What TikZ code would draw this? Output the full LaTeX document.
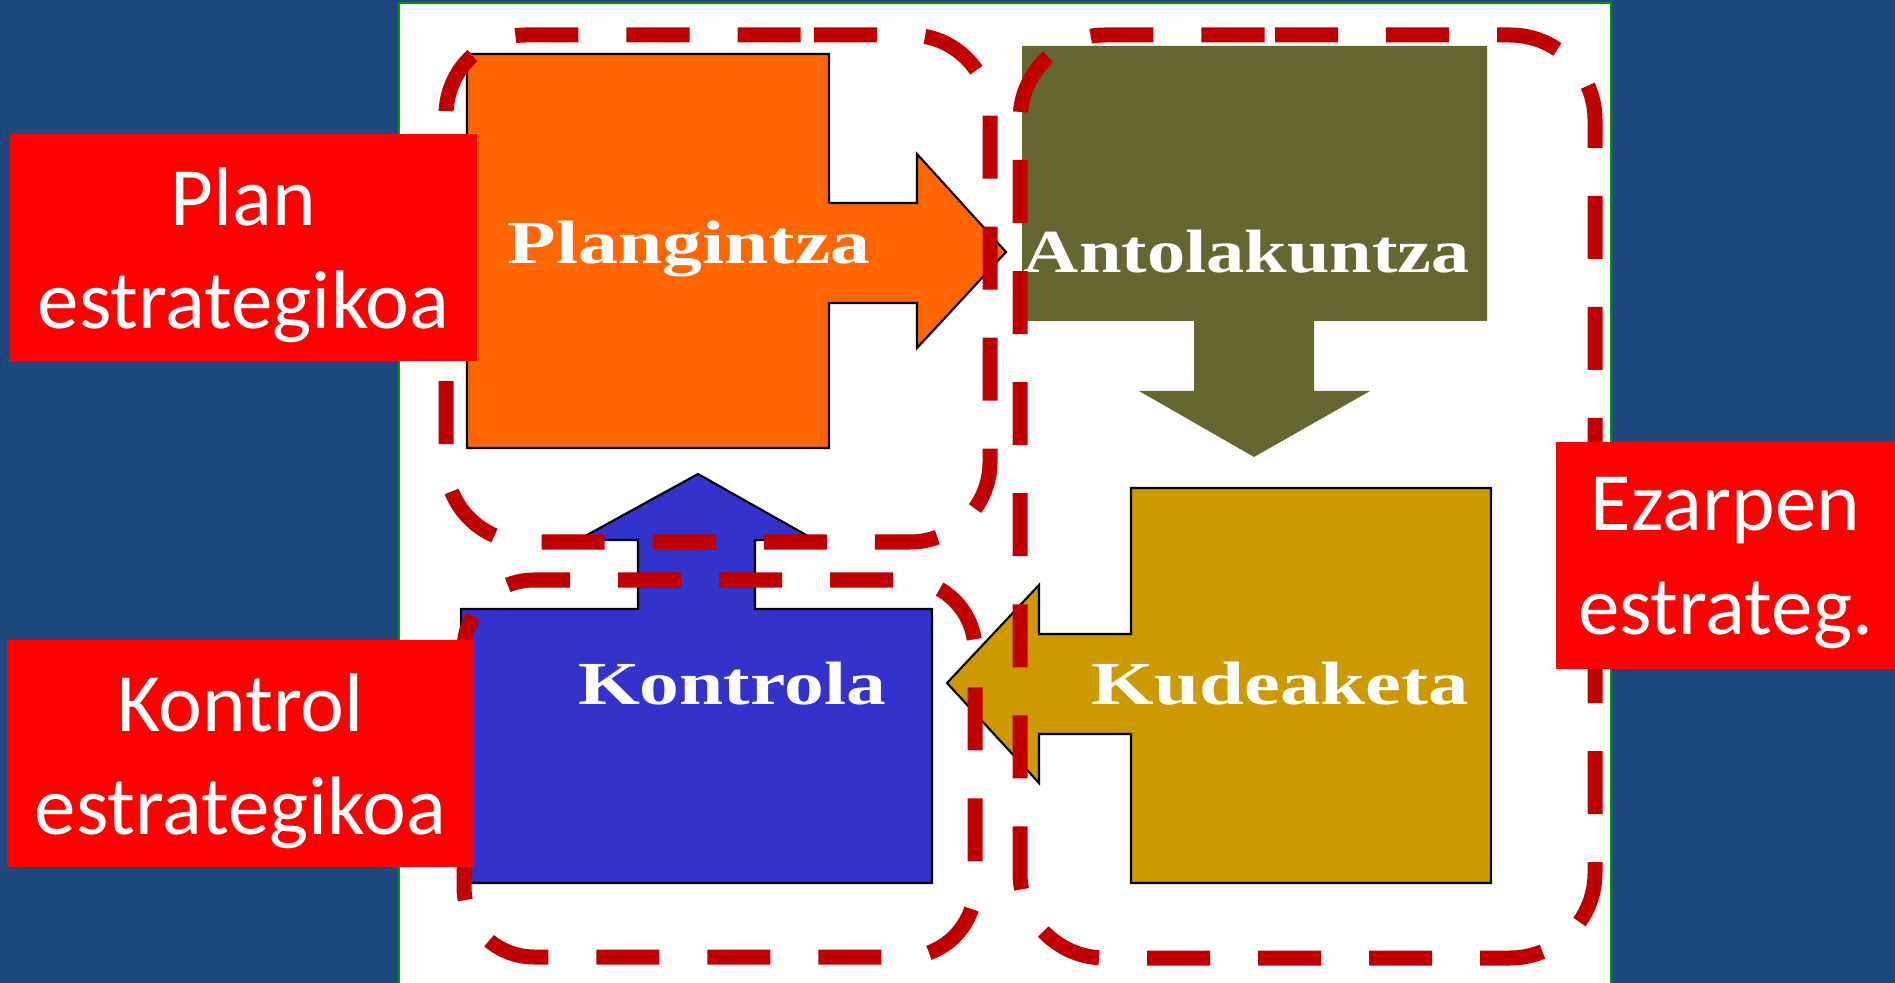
\documentclass[tikz,border=0pt]{standalone}
\usepackage{fontspec}
\setmainfont{Liberation Serif}
\newfontfamily\labelfont{Carlito}
\usepackage{graphicx}
\usepackage{tikz}
\usetikzlibrary{positioning, calc}

\definecolor{slidebg}{RGB}{31,73,125}
\definecolor{panelgreen}{RGB}{0,153,0}
\definecolor{dashred}{RGB}{192,0,0}
\definecolor{labelred}{RGB}{255,0,0}
\definecolor{planorange}{RGB}{255,102,0}
\definecolor{antolive}{RGB}{102,102,51}
\definecolor{kudgold}{RGB}{204,153,0}
\definecolor{kontblue}{RGB}{51,51,204}

\tikzset{
    blockshape/.style={draw=black, line width=0.6pt, line join=miter},
    phasebox/.style={draw=dashred, line width=0.15cm, dash pattern=on 0.63cm off 0.48cm},
    stagetext/.style={anchor=base, text=white, inner sep=0pt,
        font=\fontsize{17.4}{20}\selectfont\bfseries},
    phaselabel/.style={fill=labelred, inner sep=0pt, minimum height=2.27cm},
    phasetext/.style={text=white, align=center, inner sep=0pt, yshift=-0.075cm,
        font=\labelfont\fontsize{23.6}{29.3}\selectfont}
}

\begin{document}
\begin{tikzpicture}[x=0.01cm, y=-0.01cm]
    % slide and white panel
    \fill[slidebg] (0,0) rectangle (1895,983);
    \useasboundingbox (0,0) rectangle (1895,983);
    \fill[white] (399,3) rectangle (1611,983);
    \draw[panelgreen, line width=0.02cm] (399,983) -- (399,3) -- (1611,3) -- (1611,983);

    % stage shapes
    \draw[blockshape, fill=planorange]
        (467,54) -- (829,54) -- (829,203) -- (917,203) -- (917,154) -- (1006,252)
        -- (917,348) -- (917,303) -- (829,303) -- (829,448) -- (467,448) -- cycle;
    \fill[antolive]
        (1022,46) -- (1487,46) -- (1487,321) -- (1314,321) -- (1314,391) -- (1370,391)
        -- (1254,457) -- (1139,391) -- (1194,391) -- (1194,321) -- (1022,321) -- cycle;
    \draw[blockshape, fill=kudgold]
        (1131,488) -- (1491,488) -- (1491,883) -- (1131,883) -- (1131,734) -- (1039,734)
        -- (1039,783) -- (947,683) -- (1039,585) -- (1039,634) -- (1131,634) -- cycle;
    \draw[blockshape, fill=kontblue]
        (461,609) -- (638,609) -- (638,540) -- (578,540) -- (698,474) -- (815,540)
        -- (755,540) -- (755,609) -- (932,609) -- (932,883) -- (461,883) -- cycle;

    \foreach \name/\x/\y/\sc/\txt in {
        plan/689/264/1.3/Plangintza,
        antol/1247/273/1.25/Antolakuntza,
        kontr/732/704/1.3/Kontrola,
        kudea/1280/704/1.32/Kudeaketa}{
        \node[stagetext] (\name) at (\x,\y) {\scalebox{\sc}[1]{\txt}};
    }

    % dashed groups
    \draw[phasebox, rounded corners=0.8cm]
        (734,35) -- (990,35) -- (990,542) -- (446,542) -- (446,35) -- cycle;
    \draw[phasebox, rounded corners=0.7cm]
        (649,580) -- (975,580) -- (975,957) -- (464,957) -- (464,580) -- cycle;
    \draw[phasebox, rounded corners=0.85cm]
        (1190,35) -- (1595,35) -- (1595,958) -- (1020,958) -- (1020,35) -- cycle;

    % red labels
    \foreach \name/\x/\y/\w/\txt in {
        planlbl/243.5/247.5/4.67cm/{Plan\\estrategikoa},
        kontrlbl/240.5/753.5/4.67cm/{Kontrol\\estrategikoa},
        ezarlbl/1725.5/555.5/3.39cm/{Ezarpen\\estrateg.}}{
        \node[phaselabel, minimum width=\w] (\name) at (\x,\y) {};
        \node[phasetext] (\name text) at (\name.center) {\txt};
    }
\end{tikzpicture}
\end{document}
